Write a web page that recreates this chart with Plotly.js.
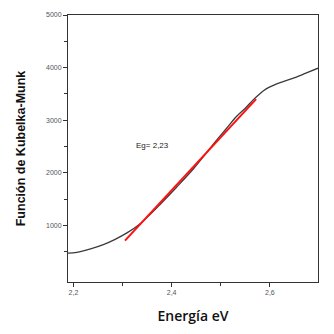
<!DOCTYPE html>
<html><head><meta charset="utf-8">
<script src="https://cdn.plot.ly/plotly-3.0.1.min.js"></script>
<style>html,body{margin:0;padding:0;background:#fff}#c{width:334px;height:334px}</style>
</head><body><div id="c"></div>
<script>
const energy = [2.189, 2.207, 2.235, 2.261, 2.285, 2.309, 2.336, 2.356, 2.376, 2.41, 2.444, 2.468, 2.492, 2.512, 2.532, 2.55, 2.566, 2.578, 2.587, 2.598, 2.614, 2.63, 2.648, 2.672, 2.698];
const km = [480, 494, 560, 640, 740, 862, 1038, 1210, 1398, 1730, 2075, 2350, 2630, 2850, 3072, 3230, 3389, 3490, 3560, 3625, 3692, 3745, 3800, 3890, 3990];
const fitX = [2.305, 2.572];
const fitY = [716, 3402];
const egLabel = "Eg= 2,23";
const egPos = [2.362, 2530];

const traces = [
  {x: energy, y: km, mode: 'lines', line: {color: '#3a3a3a', width: 1.3, shape: 'spline'}, hoverinfo: 'skip'},
  {x: fitX, y: fitY, mode: 'lines', line: {color: '#ff1010', width: 2}, hoverinfo: 'skip'}
];
const axisCommon = {
  showgrid: false, zeroline: false, showline: true, mirror: true,
  linecolor: '#333', linewidth: 1, ticks: 'outside', ticklen: 4, tickcolor: '#333',
  tickfont: {family: 'Liberation Sans, Arial', size: 7, color: '#555'}
};
const layout = {
  width: 334, height: 334,
  margin: {l: 68, r: 16, t: 15, b: 52},
  showlegend: false,
  paper_bgcolor: '#fff', plot_bgcolor: '#fff',
  xaxis: Object.assign({}, axisCommon, {
    range: [2.189, 2.698], tickvals: [2.2, 2.4, 2.6], ticktext: ['2,2', '2,4', '2,6'],
    minor: {tickvals: [2.3, 2.5], ticks: 'outside', ticklen: 3, tickcolor: '#333'},
    title: {text: 'Energía eV', font: {family: 'Open Sans', size: 14, color: '#111', weight: 600}, standoff: 15}
  }),
  yaxis: Object.assign({}, axisCommon, {
    range: [-70, 5000], tickvals: [1000, 2000, 3000, 4000, 5000],
    minor: {tickvals: [500, 1500, 2500, 3500, 4500], ticks: 'outside', ticklen: 3, tickcolor: '#333'},
    title: {text: 'Función de Kubelka-Munk', font: {family: 'Liberation Sans, Arial', size: 12.5, color: '#111', weight: 'bold'}, standoff: 17}
  }),
  annotations: [{x: egPos[0], y: egPos[1], text: egLabel, showarrow: false,
    font: {family: 'Liberation Sans, Arial', size: 8, color: '#222'}}]
};
Plotly.newPlot('c', traces, layout, {staticPlot: true});
</script></body></html>
